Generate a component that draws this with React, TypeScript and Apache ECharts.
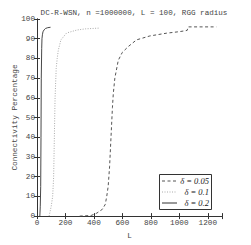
import React, { useEffect, useRef } from "react";
import * as echarts from "echarts";

const titleText = "DC-R-WSN, n =1000000, L = 100, RGG radius";
const xName = "L";
const yName = "Connectivity Percentage";
const seriesNames = ["δ = 0.05", "δ = 0.1", "δ = 0.2"];

const d005: [number, number][] = [
  [300, 0], [380, 0.3], [420, 1.5], [460, 3.5], [480, 6], [490, 10], [500, 15],
  [510, 25], [520, 40], [530, 55], [536, 62], [547, 70], [571, 79], [599, 83],
  [641, 86], [699, 89.4], [793, 91.4], [910, 92.8], [1003, 93.6], [1055, 94.2],
  [1062, 96], [1260, 96],
];
const d01: [number, number][] = [
  [85, 0], [100, 5], [110, 10], [117, 20], [122, 40], [127, 60], [135, 75],
  [142, 80], [150, 84.3], [168, 89.4], [208, 92.9], [280, 94.4], [340, 95],
  [442, 95.4],
];
const d02: [number, number][] = [
  [20, 0], [23, 5], [26, 15], [28, 40], [30, 70], [33, 85], [35, 90], [38, 92],
  [42, 93.5], [50, 94.5], [60, 95.2], [75, 95.6], [95, 95.8],
];

const mono = "Liberation Mono";
const axisColor = "#333";
const textColor = "#444";
const colors = ["#555", "#aaa", "#333"];
const dashes: any[] = [[3, 2.5], [1, 1.5], "solid"];

export default function App() {
  const ref = useRef<HTMLDivElement>(null);
  useEffect(() => {
    if (!ref.current) return;
    const chart = echarts.init(ref.current, undefined, { renderer: "svg" });
    const tick = { show: true, inside: true, length: 3, lineStyle: { color: axisColor } };
    const legendRows = [181, 192, 203];
    const legendGraphics: any[] = [
      {
        type: "rect",
        shape: { x: 159.5, y: 174.5, width: 52, height: 35 },
        style: { fill: "#fff", stroke: "#333", lineWidth: 1 },
        z: 100,
      },
    ];
    seriesNames.forEach((n, i) => {
      legendGraphics.push({
        type: "line",
        shape: { x1: 162, y1: legendRows[i], x2: 177, y2: legendRows[i] },
        style: { stroke: colors[i], lineWidth: 1, lineDash: dashes[i] === "solid" ? null : dashes[i] },
        z: 101,
      });
      legendGraphics.push({
        type: "text",
        x: 209,
        y: legendRows[i],
        style: {
          text: n,
          align: "right",
          verticalAlign: "middle",
          fontFamily: "Liberation Serif",
          fontStyle: "italic",
          fontSize: 8.5,
          fill: "#222",
        },
        z: 101,
      });
    });
    chart.setOption({
      animation: false,
      backgroundColor: "#fff",
      title: {
        text: titleText,
        left: 129,
        top: 4,
        textAlign: "center",
        textStyle: { fontFamily: mono, fontSize: 7.6, fontWeight: "normal", color: textColor },
      },
      grid: { left: 37, right: 29, top: 19, bottom: 28 },
      graphic: legendGraphics,
      xAxis: [
        {
          type: "value",
          min: 0,
          max: 1300,
          interval: 200,
          name: xName,
          nameLocation: "middle",
          nameGap: 10,
          nameTextStyle: { fontFamily: mono, fontSize: 7.7, color: textColor },
          axisLine: { show: true, lineStyle: { color: axisColor } },
          axisTick: tick,
          axisLabel: {
            fontFamily: mono,
            fontSize: 7.7,
            color: textColor,
            margin: 3,
            formatter: (v: number) => (v % 200 === 0 && v <= 1200 ? String(v) : ""),
          },
          splitLine: { show: false },
        },
        {
          type: "value",
          min: 0,
          max: 1300,
          interval: 200,
          position: "top",
          axisLine: { show: true, lineStyle: { color: axisColor } },
          axisTick: tick,
          axisLabel: { show: false },
          splitLine: { show: false },
        },
      ],
      yAxis: [
        {
          type: "value",
          min: 0,
          max: 100,
          interval: 10,
          name: yName,
          nameLocation: "middle",
          nameGap: 18,
          nameMoveOverlap: false,
          nameTextStyle: { fontFamily: mono, fontSize: 7.7, color: textColor },
          axisLine: { show: true, lineStyle: { color: axisColor } },
          axisTick: tick,
          axisLabel: { fontFamily: mono, fontSize: 7.7, color: textColor, margin: 2 },
          splitLine: { show: false },
        },
        {
          type: "value",
          min: 0,
          max: 100,
          interval: 10,
          position: "right",
          axisLine: { show: true, lineStyle: { color: axisColor } },
          axisTick: tick,
          axisLabel: { show: false },
          splitLine: { show: false },
        },
      ],
      series: [
        {
          name: seriesNames[0],
          type: "line",
          data: d005,
          symbol: "none",
          lineStyle: { color: colors[0], width: 1, type: dashes[0] },
        },
        {
          name: seriesNames[1],
          type: "line",
          data: d01,
          symbol: "none",
          lineStyle: { color: colors[1], width: 1, type: dashes[1] },
        },
        {
          name: seriesNames[2],
          type: "line",
          data: d02,
          symbol: "none",
          lineStyle: { color: colors[2], width: 0.9, type: "solid" },
        },
      ],
    });
    return () => chart.dispose();
  }, []);
  return <div ref={ref} style={{ width: 251, height: 245, position: "absolute", left: 0, top: 0 }} />;
}
